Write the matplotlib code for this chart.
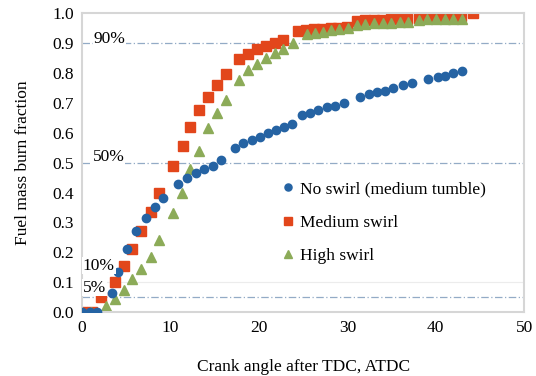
import numpy as np
import matplotlib
matplotlib.use("Agg")
from matplotlib import pyplot as plt

plt.rcParams['font.family'] = ['Liberation Serif', 'DejaVu Serif']

# No swirl (medium tumble)
no_swirl_x = [0, 0.9, 1.7, 3.4, 4.1, 5.1, 6.1, 7.2, 8.2, 9.2, 10.9, 11.9, 12.9, 13.8, 14.8, 15.7,
              17.3, 18.2, 19.2, 20.1, 21.0, 21.9, 22.8, 23.7, 24.9, 25.8, 26.7, 27.7, 28.6, 29.6,
              31.4, 32.4, 33.4, 34.3, 35.2, 36.3, 37.3, 39.1, 40.2, 41.1, 42.0, 43.0]
no_swirl_y = [0.0, 0.0, 0.0, 0.065, 0.135, 0.21, 0.27, 0.315, 0.35, 0.38, 0.43, 0.45, 0.465, 0.48, 0.49, 0.51,
              0.55, 0.565, 0.575, 0.585, 0.60, 0.61, 0.62, 0.63, 0.66, 0.665, 0.675, 0.685, 0.69, 0.70,
              0.72, 0.73, 0.735, 0.74, 0.75, 0.76, 0.765, 0.78, 0.785, 0.79, 0.80, 0.805]

# Medium swirl
med_x = [0, 1.1, 2.2, 3.7, 4.7, 5.7, 6.7, 7.8, 8.7, 10.3, 11.4, 12.2, 13.2, 14.3, 15.3, 16.3,
         17.7, 18.8, 19.8, 20.8, 21.8, 22.7, 24.4, 25.3, 26.2, 27.1, 28.1, 29.0, 30.0,
         31.1, 32.0, 33.0, 33.9, 34.9, 35.8, 36.8, 38.1, 39.0, 40.0, 40.9, 41.9, 42.8, 44.2]
med_y = [0.0, 0.0, 0.05, 0.10, 0.155, 0.21, 0.27, 0.335, 0.40, 0.49, 0.555, 0.62, 0.675, 0.72, 0.76, 0.795,
         0.845, 0.863, 0.88, 0.89, 0.90, 0.91, 0.94, 0.943, 0.946, 0.948, 0.95, 0.952, 0.955,
         0.975, 0.976, 0.977, 0.978, 0.979, 0.98, 0.98, 0.985, 0.986, 0.987, 0.988, 0.99, 0.99, 1.0]

# High swirl
high_x = [0, 1.0, 2.7, 3.7, 4.8, 5.7, 6.7, 7.8, 8.7, 10.3, 11.3, 12.2, 13.2, 14.3, 15.3, 16.3,
          17.7, 18.8, 19.8, 20.8, 21.8, 22.7, 23.9, 25.4, 26.3, 27.3, 28.2, 29.1, 30.1,
          31.1, 32.0, 33.0, 34.0, 34.9, 35.9, 36.9, 38.1, 39.0, 40.0, 41.0, 42.0, 43.0]
high_y = [0.0, 0.0, 0.02, 0.045, 0.075, 0.11, 0.145, 0.185, 0.24, 0.33, 0.40, 0.478, 0.54, 0.615, 0.665, 0.71,
          0.776, 0.81, 0.83, 0.85, 0.867, 0.88, 0.90, 0.93, 0.934, 0.938, 0.942, 0.946, 0.95,
          0.962, 0.964, 0.966, 0.967, 0.968, 0.969, 0.97, 0.978, 0.979, 0.98, 0.98, 0.981, 0.982]

ref_levels = [0.05, 0.5, 0.9]
ref_labels = [("90%", 1.3, 0.912), ("50%", 1.2, 0.518), ("10%", 0.1, 0.155), ("5%", 0.1, 0.082)]

fig = plt.figure(figsize=(5.36, 3.76), dpi=100)
ax = fig.add_axes([0.153, 0.17, 0.825, 0.795])

for lv in ref_levels:
    ax.axhline(lv, color='#93abc6', lw=0.9, ls=(0, (6, 2, 1, 2)), zorder=1)
ax.axhline(0.1, color='#ececec', lw=0.8, zorder=0)

ax.plot(no_swirl_x, no_swirl_y, 'o', color='#2563a3', ms=6, label='No swirl (medium tumble)', zorder=3)
ax.plot(med_x, med_y, 's', color='#e2461b', ms=7, label='Medium swirl', zorder=2)
ax.plot(high_x, high_y, '^', color='#8cab58', ms=6.5, label='High swirl', zorder=2)

for txt, x, y in ref_labels:
    ax.text(x, y, txt, fontsize=12.5, va='center', ha='left', zorder=4,
            bbox=dict(facecolor='white', edgecolor='none', pad=0.5))

ax.set_xlim(0, 50)
ax.set_ylim(0, 1.0)
ax.set_xticks(np.arange(0, 51, 10))
ax.set_yticks(np.arange(0, 1.01, 0.1))
ax.set_yticklabels(['%.1f' % v for v in np.arange(0, 1.01, 0.1)])
ax.tick_params(length=0, labelsize=12.5, pad=6)
for s in ax.spines.values():
    s.set_color('#d6d6d6')
    s.set_linewidth(1.5)

ax.set_xlabel('Crank angle after TDC, ATDC', fontsize=12.5, labelpad=16)
ax.set_ylabel('Fuel mass burn fraction', fontsize=12.5, labelpad=15)

ax.legend(loc='upper left', bbox_to_anchor=(0.415, 0.49), frameon=False, fontsize=12.5,
          handlelength=0.8, handletextpad=0.3, labelspacing=1.0, markerscale=0.85)

fig.savefig('out.png', dpi=100)
